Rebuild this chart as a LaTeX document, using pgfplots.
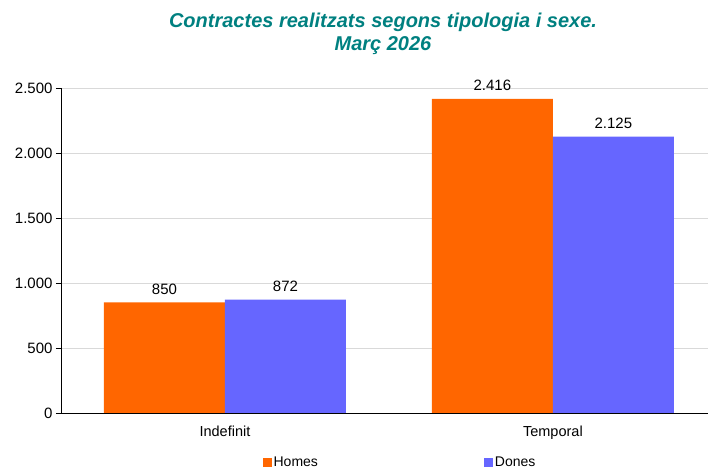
\documentclass[border=0pt]{standalone}
\usepackage{pgfplots}
\pgfplotsset{compat=1.18}
\usepackage{fontspec}
\setmainfont{Liberation Sans}
\definecolor{homes}{HTML}{FF6600}
\definecolor{dones}{HTML}{6666FF}
\definecolor{titc}{HTML}{008080}
\begin{document}
\begin{tikzpicture}
\path[use as bounding box] (0,0) rectangle (708pt,470pt);
\node[align=center, font=\fontsize{20}{23}\selectfont\bfseries\itshape, text=titc] at (383pt,436pt)
  {Contractes realitzats segons tipologia i sexe.\\Març 2026};
\begin{axis}[
  at={(61pt,57pt)}, anchor=south west,
  scale only axis, width=647pt, height=325pt,
  xmin=-0.5, xmax=1.473, ymin=0, ymax=2500,
  ybar=0pt, bar width=121pt,
  axis x line*=bottom, axis y line*=left,
  axis line style={black},
  xtick={0,1}, xticklabels={Indefinit,Temporal},
  major x tick style={draw=none},
  extra x ticks={0.5}, extra x tick labels={},
  extra x tick style={major tick length=5pt, tick style={black}, grid=none},
  ytick={0,500,...,2500},
  ytick style={black}, major tick length=5pt,
  tick align=outside,
  ymajorgrids, grid style={draw=black!15},
  tick label style={font=\fontsize{15}{17}\selectfont},
  xticklabel style={font=\fontsize{14.5}{17}\selectfont, yshift=-4pt},
  /pgf/number format/assume math mode=true,
  /pgf/number format/1000 sep={.},
  yticklabel style={/pgf/number format/1000 sep={.}},
  nodes near coords,
  nodes near coords style={font=\fontsize{15}{17}\selectfont, /pgf/number format/1000 sep={.}, /pgf/number format/assume math mode=true, yshift=4.5pt},
  legend columns=2,
  legend style={at={(0.524,-0.151)}, anchor=center, draw=none, font=\fontsize{14}{16}\selectfont,
    /tikz/every even column/.append style={column sep=164pt}},
  legend image code/.code={\fill[#1,draw=none] (0pt,-4.5pt) rectangle (9pt,4.5pt);},
]
\addplot[fill=homes, draw=none] coordinates {(0,850) (1,2416)};
\addplot[fill=dones, draw=none] coordinates {(0,872) (1,2125)};
\legend{Homes,Dones}
\end{axis}
\end{tikzpicture}
\end{document}
